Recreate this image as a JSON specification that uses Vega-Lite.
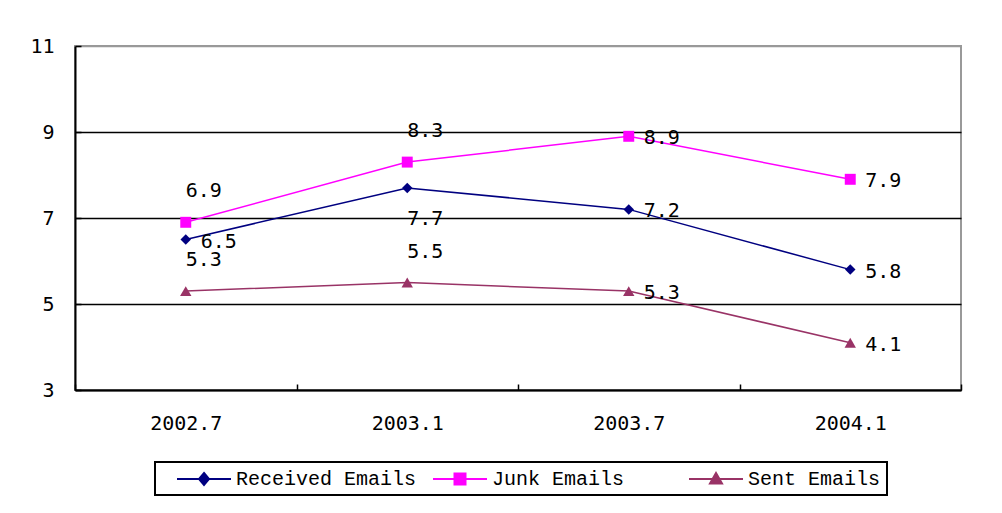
{
  "$schema": "https://vega.github.io/schema/vega-lite/v6.json",
  "width": 886,
  "height": 344,
  "autosize": {"type": "none"},
  "padding": {"left": 75, "top": 46, "right": 41, "bottom": 123},
  "background": "white",
  "config": {
    "view": {"stroke": "#999999", "strokeWidth": 2},
    "axis": {"labelFont": "DejaVu Sans Mono", "labelFontSize": 20, "labelColor": "black", "domainColor": "black", "domainWidth": 2, "tickColor": "black", "tickWidth": 1.5, "title": null}
  },
  "data": {"values": [
    {"date": "2002.7", "series": "Received Emails", "value": 6.5},
    {"date": "2003.1", "series": "Received Emails", "value": 7.7},
    {"date": "2003.7", "series": "Received Emails", "value": 7.2},
    {"date": "2004.1", "series": "Received Emails", "value": 5.8},
    {"date": "2002.7", "series": "Junk Emails", "value": 6.9},
    {"date": "2003.1", "series": "Junk Emails", "value": 8.3},
    {"date": "2003.7", "series": "Junk Emails", "value": 8.9},
    {"date": "2004.1", "series": "Junk Emails", "value": 7.9},
    {"date": "2002.7", "series": "Sent Emails", "value": 5.3},
    {"date": "2003.1", "series": "Sent Emails", "value": 5.5},
    {"date": "2003.7", "series": "Sent Emails", "value": 5.3},
    {"date": "2004.1", "series": "Sent Emails", "value": 4.1}
  ]},
  "encoding": {
    "x": {"field": "date", "type": "ordinal",
      "scale": {"type": "band", "paddingInner": 0, "paddingOuter": 0},
      "axis": {"labelAngle": 0, "tickBand": "extent", "tickSize": -6, "labelPadding": 29, "grid": false}},
    "y": {"field": "value", "type": "quantitative",
      "scale": {"domain": [3, 11], "nice": false, "zero": false},
      "axis": {"values": [3, 5, 7, 9, 11], "tickSize": -6, "labelPadding": 27, "grid": true,
        "gridColor": {"condition": {"test": "datum.value == 11", "value": "#999999"}, "value": "black"},
        "gridWidth": 1.5}}
  },
  "layer": [
    {
      "mark": {"type": "line", "strokeWidth": 1.5},
      "encoding": {
        "color": {"field": "series", "type": "nominal",
          "scale": {"domain": ["Received Emails", "Junk Emails", "Sent Emails"], "range": ["#000080", "#FF00FF", "#993366"]},
          "legend": {"orient": "none", "legendX": 80, "legendY": 416, "direction": "horizontal", "columns": 3,
            "title": null, "strokeColor": "black", "fillColor": "white", "padding": 6,
            "columnPadding": 0, "gridAlign": "all", "labelFont": "Liberation Mono", "labelFontSize": 20, "labelColor": "black",
            "labelOffset": 21, "labelLimit": 400, "symbolOffset": 32,
            "encode": {
              "legend": {"update": {"strokeWidth": {"value": 2}}},
              "symbols": {"update": {
              "shape": {"signal": "datum.value === 'Received Emails' ? 'M-2.7,0H2.7M0,-0.6L0.5,0L0,0.6L-0.5,0Z' : datum.value === 'Junk Emails' ? 'M-2.7,0H2.7M-0.55,-0.55H0.55V0.55H-0.55Z' : 'M-2.7,0H2.7M0,-0.6L0.6,0.45H-0.6Z'"},
              "size": {"value": 400},
              "stroke": {"signal": "scale('color', datum.value)"},
              "fill": {"signal": "scale('color', datum.value)"},
              "strokeWidth": {"value": 2},
              "opacity": {"value": 1}
            }}}}}
      }
    },
    {
      "transform": [{"filter": "datum.series == 'Received Emails'"}],
      "mark": {"type": "point", "filled": true, "opacity": 1, "shape": "diamond", "size": 110},
      "encoding": {"color": {"field": "series", "type": "nominal", "legend": null}}
    },
    {
      "transform": [{"filter": "datum.series == 'Junk Emails'"}],
      "mark": {"type": "point", "filled": true, "opacity": 1, "shape": "square", "size": 120},
      "encoding": {"color": {"field": "series", "type": "nominal", "legend": null}}
    },
    {
      "transform": [{"filter": "datum.series == 'Sent Emails'"}],
      "mark": {"type": "point", "filled": true, "opacity": 1, "shape": "triangle-up", "size": 130},
      "encoding": {"color": {"field": "series", "type": "nominal", "legend": null}}
    },
    {
      "transform": [{"filter": "datum.date == '2003.7' || datum.date == '2004.1' || (datum.series == 'Received Emails' && datum.date == '2002.7')"}],
      "mark": {"type": "text", "align": "left", "baseline": "middle", "dx": 15, "dy": 2, "font": "DejaVu Sans Mono", "fontSize": 20, "color": "black"},
      "encoding": {"text": {"field": "value", "type": "quantitative", "format": ".1f"}}
    },
    {
      "transform": [{"filter": "(datum.date == '2002.7' || datum.date == '2003.1') && datum.series != 'Received Emails'"}],
      "mark": {"type": "text", "align": "center", "baseline": "middle", "dx": 18, "dy": -31, "font": "DejaVu Sans Mono", "fontSize": 20, "color": "black"},
      "encoding": {"text": {"field": "value", "type": "quantitative", "format": ".1f"}}
    },
    {
      "transform": [{"filter": "datum.date == '2003.1' && datum.series == 'Received Emails'"}],
      "mark": {"type": "text", "align": "center", "baseline": "middle", "dx": 18, "dy": 31, "font": "DejaVu Sans Mono", "fontSize": 20, "color": "black"},
      "encoding": {"text": {"field": "value", "type": "quantitative", "format": ".1f"}}
    }
  ]
}
